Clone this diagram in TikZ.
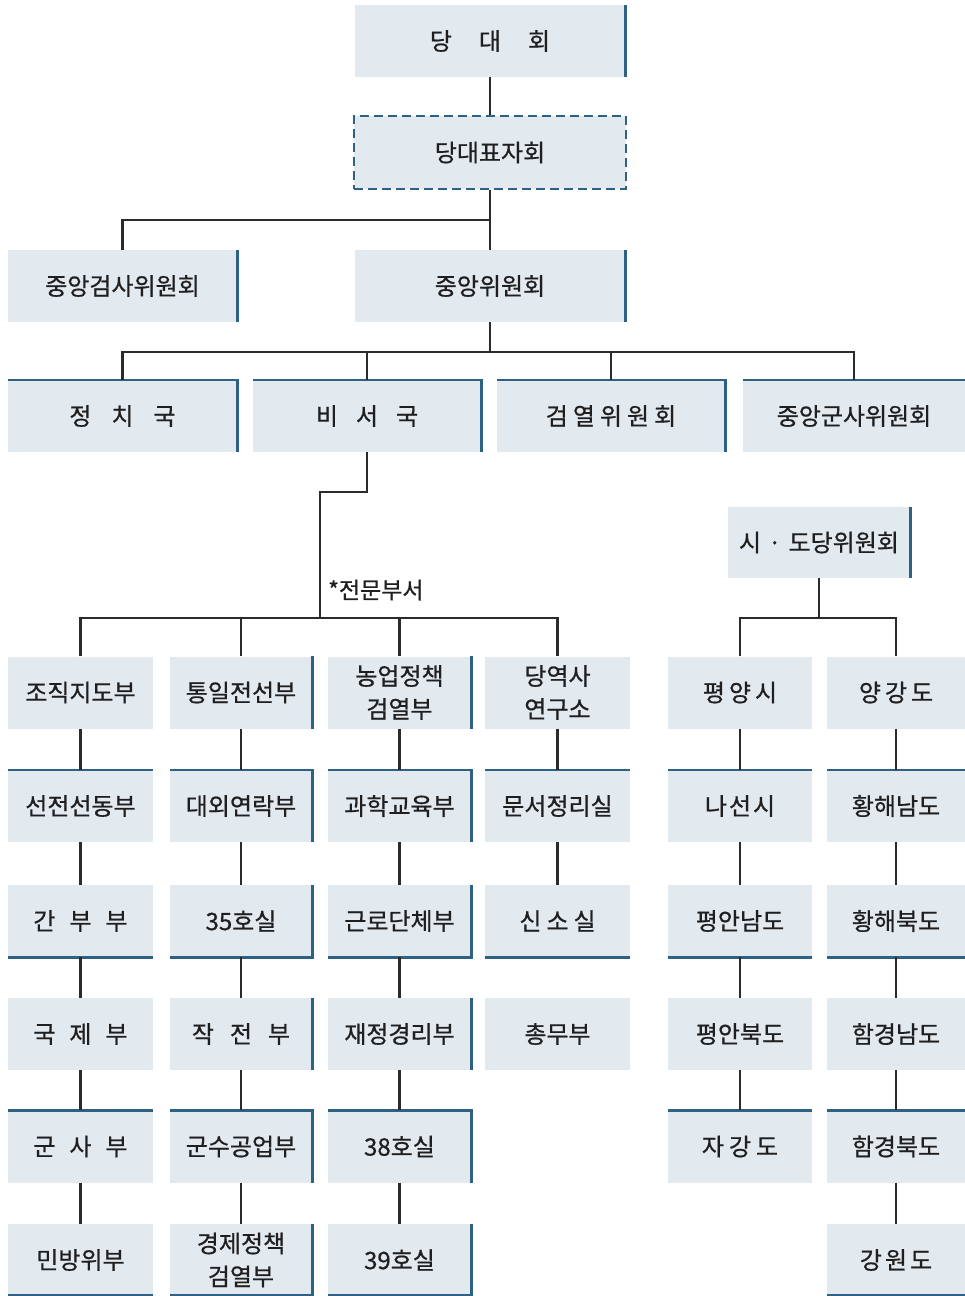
\documentclass[tikz,border=0pt]{standalone}
\usepackage{fontspec}
\newfontfamily\kr{Noto Sans CJK KR}[FakeBold=0.7]
\definecolor{boxfill}{HTML}{E2E9EF}
\definecolor{bcol}{HTML}{2E6285}
\definecolor{lcol}{HTML}{2B2B2B}
\newcommand\kg[1]{\hspace*{#1pt}}
\begin{document}
\begin{tikzpicture}[x=1pt,y=-1pt,
  box/.style={fill=boxfill, inner sep=0pt, minimum height=72, text=black!88,
    font=\kr\fontsize{24}{33}\selectfont, align=center},
  cbox/.style={box, minimum width=143},
  bline/.style={draw=bcol, line width=2.6pt},
  conn/.style={draw=lcol, line width=2.4pt},
]
\useasboundingbox (0,0) rectangle (965,1296);

% top levels
\node[box, minimum width=270] (dang) at (490,41) {당\kg{27}대\kg{27}회};
\node[box, minimum width=272, minimum height=73, draw=bcol, line width=2.8pt,
      dash pattern=on 9pt off 5pt] (pyo) at (490,152.5) {당대표자회};
\node[box, minimum width=229] (geomsa) at (122.5,286) {중앙검사위원회};
\node[box, minimum width=270] (jw) at (490,286) {중앙위원회};

\node[box, minimum width=229] (jeong) at (122.5,416) {정\kg{20}치\kg{20}국};
\node[box, minimum width=228] (biseo) at (367,416) {비\kg{18}서\kg{18}국};
\node[box, minimum width=228] (geomyeol) at (611,416) {검\kg{5}열\kg{5}위\kg{5}원\kg{5}회};
\node[box, minimum width=222] (gunsa) at (854,416) {중앙군사위원회};

\node[box, minimum width=182, minimum height=71] (sido) at (819,542.5) {시\kg{7}·\kg{7}도당위원회};
\node[anchor=west, inner sep=0pt, text=black!88, font=\kr\fontsize{23}{26}\selectfont] (jeonmun) at (328,590) {*전문부서};

% column 1
\node[cbox, minimum width=145] (c11) at (80.5,692.5) {조직지도부};
\node[cbox, minimum width=145] (c12) at (80.5,806) {선전선동부};
\node[cbox, minimum width=145] (c13) at (80.5,921) {간\kg{14}부\kg{14}부};
\node[cbox, minimum width=145] (c14) at (80.5,1034) {국\kg{14}제\kg{14}부};
\node[cbox, minimum width=145] (c15) at (80.5,1146.5) {군\kg{14}사\kg{14}부};
\node[cbox, minimum width=145] (c16) at (80.5,1260) {민방위부};
% column 2
\node[cbox, minimum width=142] (c21) at (241,692.5) {통일전선부};
\node[cbox, minimum width=142] (c22) at (241,806) {대외연락부};
\node[cbox, minimum width=142] (c23) at (241,921) {35호실};
\node[cbox, minimum width=142] (c24) at (241,1034) {작\kg{16}전\kg{16}부};
\node[cbox, minimum width=142] (c25) at (241,1146.5) {군수공업부};
\node[cbox, minimum width=142] (c26) at (241,1260) {경제정책\\검열부};
% column 3
\node[cbox] (c31) at (399.5,692.5) {농업정책\\검열부};
\node[cbox] (c32) at (399.5,806) {과학교육부};
\node[cbox] (c33) at (399.5,921) {근로단체부};
\node[cbox] (c34) at (399.5,1034) {재정경리부};
\node[cbox] (c35) at (399.5,1146.5) {38호실};
\node[cbox] (c36) at (399.5,1260) {39호실};
% column 4
\node[cbox, minimum width=145] (c41) at (557.5,692.5) {당역사\\연구소};
\node[cbox, minimum width=145] (c42) at (557.5,806) {문서정리실};
\node[cbox, minimum width=145] (c43) at (557.5,921) {신\kg{5}소\kg{5}실};
\node[cbox, minimum width=145] (c44) at (557.5,1034) {총무부};
% column 5
\node[cbox, minimum width=144] (c51) at (740,692.5) {평\kg{4}양\kg{4}시};
\node[cbox, minimum width=144] (c52) at (740,806) {나\kg{2}선\kg{2}시};
\node[cbox, minimum width=144] (c53) at (740,921) {평안남도};
\node[cbox, minimum width=144] (c54) at (740,1034) {평안북도};
\node[cbox, minimum width=144] (c55) at (740,1146.5) {자\kg{5}강\kg{5}도};
% column 6
\node[cbox, minimum width=138] (c61) at (896,692.5) {양\kg{4}강\kg{4}도};
\node[cbox, minimum width=138] (c62) at (896,806) {황해남도};
\node[cbox, minimum width=138] (c63) at (896,921) {황해북도};
\node[cbox, minimum width=138] (c64) at (896,1034) {함경남도};
\node[cbox, minimum width=138] (c65) at (896,1146.5) {함경북도};
\node[cbox, minimum width=138] (c66) at (896,1260) {강\kg{3}원\kg{3}도};

% border accents
\foreach \n in {dang,geomsa,jw,sido,c21,c31}
  \draw[bline] (\n.north east) -- (\n.south east);
\foreach \n in {jeong,biseo,geomyeol,c22,c32,c25,c35}
  \draw[bline] (\n.north west) -- (\n.north east) -- (\n.south east);
\foreach \n in {gunsa,c12,c42,c52,c62,c15,c55,c65}
  \draw[bline] (\n.north west) -- (\n.north east);
\foreach \n in {c23,c33}
  \draw[bline] (\n.north east) -- (\n.south east) -- (\n.south west);
\foreach \n in {c13,c43,c53,c63}
  \draw[bline] (\n.south west) -- (\n.south east);
\foreach \n in {c24,c34}
  \draw[bline] (\n.north east) -- (\n.south east);
\foreach \n in {c26,c36}
  \draw[bline] ([yshift=1.3pt]\n.south west) -- ([yshift=1.3pt]\n.south east) -- (\n.north east);
\foreach \n in {c16,c66}
  \draw[bline] ([yshift=1.3pt]\n.south west) -- ([yshift=1.3pt]\n.south east);

% connectors
\draw[conn] (dang.south) -- (pyo.north);
\draw[conn] (pyo.south) -- (jw.north);
\coordinate (j1) at (490,220);
\draw[conn] (j1) -| (geomsa.north);
\coordinate (j2) at (490,352);
\draw[conn] (jw.south) -- (j2);
\draw[conn] (jeong.north) |- (j2) -| (gunsa.north);
\draw[conn] (biseo.north) -- (biseo.north |- j2);
\draw[conn] (geomyeol.north) -- (geomyeol.north |- j2);

\coordinate (j3) at (320,618);
\draw[conn] (biseo.south) -- ++(0,40) -| (j3);
\draw[conn] (c11.north) |- (j3) -| (c41.north);
\draw[conn] (c21.north) -- (c21.north |- j3);
\draw[conn] (c31.north) -- (c31.north |- j3);

\coordinate (j4) at (819,618);
\draw[conn] (sido.south) -- (j4);
\draw[conn] (c51.north) |- (j4) -| (c61.north);

\foreach \a/\b in {c11/c12,c12/c13,c13/c14,c14/c15,c15/c16,
                   c21/c22,c22/c23,c23/c24,c24/c25,c25/c26,
                   c31/c32,c32/c33,c33/c34,c34/c35,c35/c36,
                   c41/c42,c42/c43,
                   c51/c52,c52/c53,c53/c54,c54/c55,
                   c61/c62,c62/c63,c63/c64,c64/c65,c65/c66}
  \draw[conn] (\a.south) -- (\b.north);
\end{tikzpicture}
\end{document}
